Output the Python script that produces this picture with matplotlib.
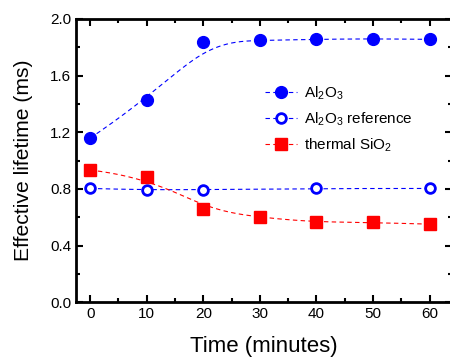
"""Effective lifetime vs anneal time, Al2O3 and thermal SiO2 passivation."""

import matplotlib

matplotlib.use("Agg")
import matplotlib.pyplot as plt
import numpy as np
from matplotlib.ticker import MultipleLocator

plt.rcParams["font.family"] = ["Liberation Sans", "DejaVu Sans"]
plt.rcParams["mathtext.fontset"] = "custom"
plt.rcParams["mathtext.rm"] = "Liberation Sans"

# data
time_min = [0, 10, 20, 30, 40, 50, 60]
al2o3 = [1.159, 1.427, 1.835, 1.849, 1.856, 1.861, 1.856]
ref_time = [0, 10, 20, 40, 60]
al2o3_ref = [0.803, 0.792, 0.795, 0.803, 0.803]
sio2 = [0.933, 0.886, 0.655, 0.599, 0.563, 0.563, 0.551]


def bspline(xs, ys, n=200):
    # clamped cubic B-spline with the data points as control points
    # (same as Origin's "B-Spline" line connection)
    P = np.column_stack([xs, ys]).astype(float)
    m = len(P)
    k = 3
    knots = np.concatenate([np.zeros(k), np.arange(m - k + 1), np.full(k, m - k)])
    u = np.linspace(0, m - k, n)
    u[-1] -= 1e-9
    # Cox-de Boor
    N = np.array([(knots[i] <= u) & (u < knots[i + 1]) for i in range(len(knots) - 1)], float)
    for d in range(1, k + 1):
        Nn = np.zeros((len(knots) - 1 - d, n))
        for i in range(len(knots) - 1 - d):
            a = knots[i + d] - knots[i]
            b = knots[i + d + 1] - knots[i + 1]
            left = (u - knots[i]) / a * N[i] if a > 0 else 0
            right = (knots[i + d + 1] - u) / b * N[i + 1] if b > 0 else 0
            Nn[i] = left + right
        N = Nn
    curve = N.T @ P
    return curve[:, 0], curve[:, 1]


def main() -> None:
    fig = plt.figure(figsize=(4.5, 3.58), dpi=100)
    ax = fig.add_axes([0.169, 0.156, 0.836, 0.791])

    dash = (0, (4, 3))

    ax.plot(*bspline(time_min, al2o3), color="blue", lw=0.8, ls=dash)
    ax.plot(time_min, al2o3, ls="none", marker="o", ms=8.5, color="blue")
    ax.plot(*bspline(ref_time, al2o3_ref), color="blue", lw=0.8, ls=dash)
    ax.plot(ref_time, al2o3_ref, ls="none", marker="o", ms=7,
            mfc="white", mec="blue", mew=2)
    ax.plot(*bspline(time_min, sio2), color="red", lw=0.8, ls=dash)
    ax.plot(time_min, sio2, ls="none", marker="s", ms=8, color="red")

    # legend proxies: dashed line with marker
    h1, = ax.plot([], [], color="blue", lw=0.8, ls=dash, marker="o", ms=8.5)
    h2, = ax.plot([], [], color="blue", lw=0.8, ls=dash, marker="o", ms=7,
                  mfc="white", mec="blue", mew=2)
    h3, = ax.plot([], [], color="red", lw=0.8, ls=dash, marker="s", ms=8)
    ax.legend([h1, h2, h3],
              [r"Al$_2$O$_3$", r"Al$_2$O$_3$ reference", r"thermal SiO$_2$"],
              loc="upper left", bbox_to_anchor=(0.589, 0.765),
              bbox_transform=fig.transFigure, frameon=False,
              fontsize=11, handlelength=2.1, handletextpad=0.45,
              labelspacing=0.55, borderpad=0, borderaxespad=0)

    ax.set_xlim(-2.5, 64)
    ax.set_ylim(0, 2.0)
    ax.xaxis.set_major_locator(MultipleLocator(10))
    ax.xaxis.set_minor_locator(MultipleLocator(5))
    ax.yaxis.set_major_locator(MultipleLocator(0.4))
    ax.yaxis.set_minor_locator(MultipleLocator(0.2))
    ax.tick_params(which="both", direction="in", top=True, right=True,
                   labelsize=11, width=1.5, colors="black")
    ax.tick_params(which="major", length=5)
    ax.tick_params(which="minor", length=3)
    ax.yaxis.set_major_formatter(plt.FormatStrFormatter("%.1f"))
    for sp in ax.spines.values():
        sp.set_linewidth(2)

    ax.set_xlabel("Time (minutes)", fontsize=16, labelpad=10.5)
    ax.set_ylabel("Effective lifetime (ms)", fontsize=15.2, labelpad=12)

    fig.savefig("out.png", dpi=100)
    plt.close(fig)


if __name__ == "__main__":
    main()
